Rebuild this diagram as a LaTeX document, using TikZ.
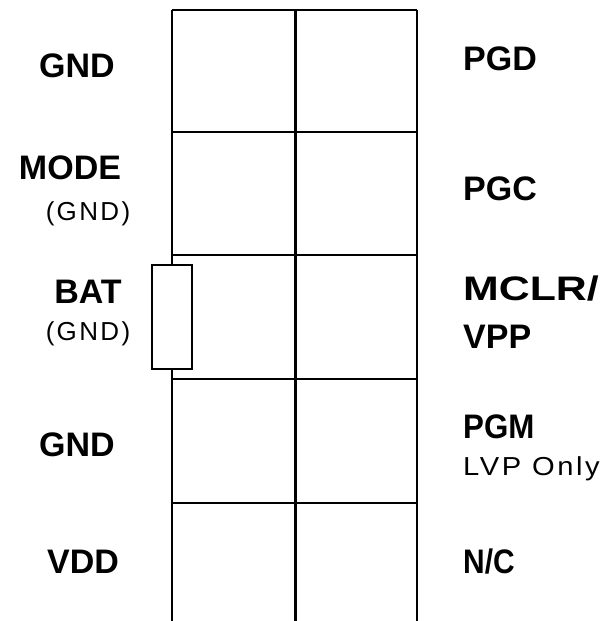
\documentclass[tikz,border=0pt]{standalone}
\usepackage{fontspec}
\setmainfont{Liberation Sans}
\newfontfamily\smallfont[LetterSpace=9]{Liberation Sans}
\begin{document}
\begin{tikzpicture}[x=1pt,y=-1pt,
  grid/.style={line width=2.4pt,black},
  big/.style={inner sep=0pt,font=\fontsize{34}{34}\selectfont\bfseries},
  small/.style={inner sep=0pt,font=\fontsize{26}{26}\selectfont\smallfont}]
\useasboundingbox (0,0) rectangle (610,621);
% grid
\coordinate (tl) at (172,10);
\coordinate (tm) at (295.5,10);
\coordinate (tr) at (417,10);
\coordinate (bl) at (172,621);
\coordinate (bm) at (295.5,621);
\coordinate (br) at (417,621);
\draw[grid] (tl) -- (bl);
\draw[grid] (tm) -- (bm);
\draw[grid] (tr) -- (br);
\foreach \yy in {10,132,255,379,503}
  \draw[grid] (172,\yy) -- (417,\yy);
% battery/part box
\node[draw,line width=2.4pt,fill=white,minimum width=40pt,minimum height=104pt,inner sep=0pt] (box) at (172,317) {};
% left labels
\node[big,anchor=base] (l1) at (77,77) {GND};
\node[big,anchor=base] (l2) at (70,179) {MODE};
\node[small,anchor=base] (l2s) at (88,220) {(GND)};
\node[big,anchor=base] (l3) at (88,303) {BAT};
\node[small,anchor=base] (l3s) at (88,340) {(GND)};
\node[big,anchor=base] (l4) at (77,456) {GND};
\node[big,anchor=base] (l5) at (83,573) {VDD};
% right labels
\node[big,anchor=base west] (r1) at (463,70) {PGD};
\node[big,anchor=base west] (r2) at (463,200) {PGC};
\node[big,anchor=base west] (r3) at (463,300) {\scalebox{1.26}[1]{MCLR/}};
\node[big,anchor=base west] (r3b) at (463,348) {VPP};
\node[big,anchor=base west] (r4) at (463,438) {\scalebox{0.92}[1]{PGM}};
\node[small,anchor=base west] (r4s) at (463,475) {\scalebox{1.12}[1]{LVP Only}};
\node[big,anchor=base west] (r5) at (463,573) {\scalebox{0.88}[1]{N/C}};
\end{tikzpicture}
\end{document}
